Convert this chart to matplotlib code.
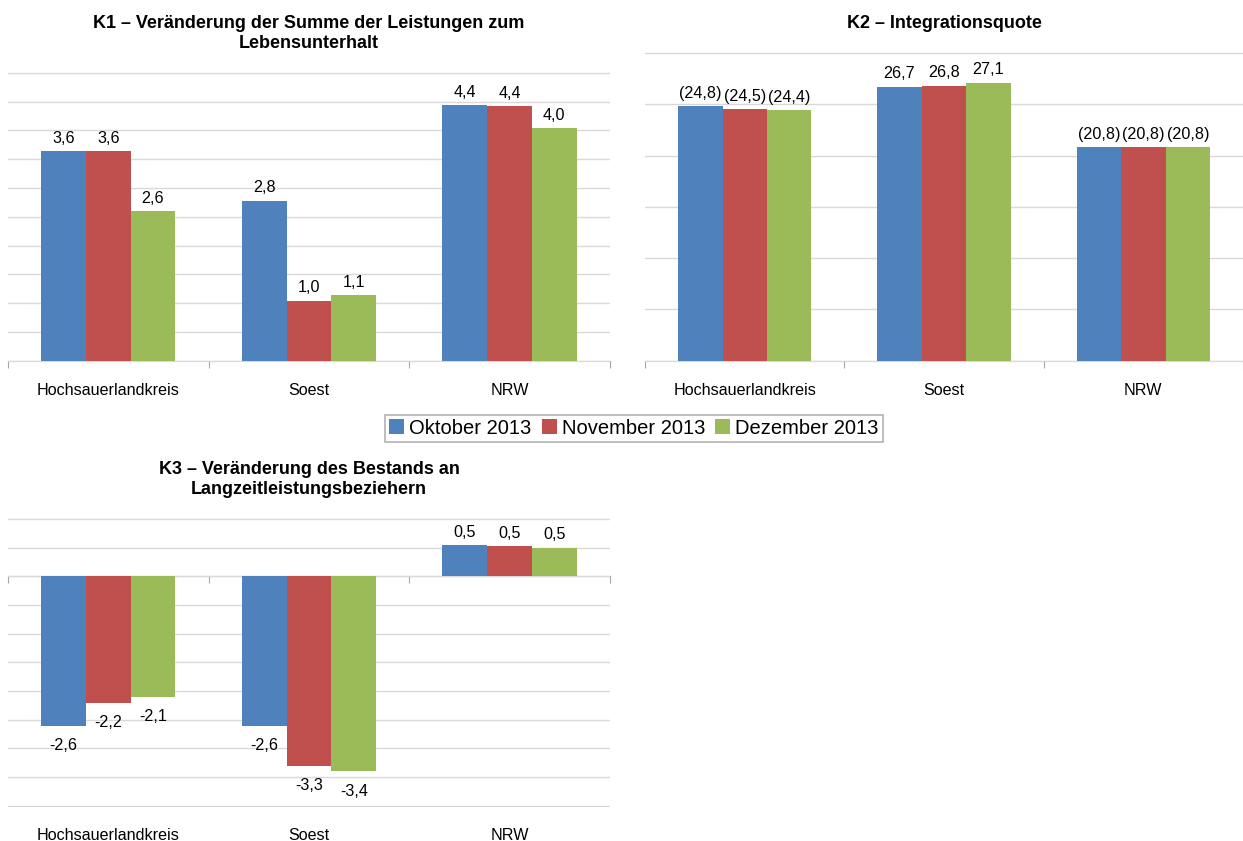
import numpy as np
import matplotlib
matplotlib.use("Agg")
import matplotlib.pyplot as plt
from matplotlib.patches import Patch

plt.rcParams["font.family"] = ["Liberation Sans", "DejaVu Sans"]

categories = ["Hochsauerlandkreis", "Soest", "NRW"]
series = ["Oktober 2013", "November 2013", "Dezember 2013"]
colors = ["#4F81BD", "#C0504D", "#9BBB59"]

# values per series (Okt, Nov, Dez) for each category
k1_okt = [3.64, 2.78, 4.44]
k1_nov = [3.64, 1.04, 4.42]
k1_dez = [2.60, 1.14, 4.04]

k2_okt = [24.8, 26.7, 20.8]
k2_nov = [24.5, 26.8, 20.8]
k2_dez = [24.4, 27.1, 20.8]
k2_paren = [True, False, True]

k3_okt = [-2.6, -2.6, 0.54]
k3_nov = [-2.2, -3.3, 0.52]
k3_dez = [-2.1, -3.4, 0.50]

GRID = "#d9d9d9"
AXIS = "#a6a6a6"
FS = 11.6


def fmt(v, paren=False):
    s = f"{v:.1f}".replace(".", ",")
    return f"({s})" if paren else s


def panel(ax, data, ylim, step, title, paren=None):
    x = np.arange(len(categories))
    w = 0.223
    for i, (vals, c) in enumerate(zip(data, colors)):
        bars = ax.bar(x + (i - 1) * w, vals, w, color=c, zorder=3)
        for k, (b, v) in enumerate(zip(bars, vals)):
            p = paren[k] if paren else False
            ax.annotate(fmt(v, p),
                        (b.get_x() + b.get_width() / 2, v),
                        xytext=(0, 4 if v >= 0 else -9), textcoords="offset points",
                        ha="center", va="bottom" if v >= 0 else "top", fontsize=FS)
    ax.set_xlim(-0.5, 2.5)
    ax.set_ylim(ylim[0] - 0.004 * (ylim[1] - ylim[0]), ylim[1] + 0.003 * (ylim[1] - ylim[0]))
    ax.set_yticks(np.arange(ylim[0], ylim[1] + step / 2, step))
    ax.yaxis.grid(True, color=GRID, lw=1, zorder=0)
    ax.tick_params(axis="y", length=0, labelleft=False)
    for s in ["left", "right", "top"]:
        ax.spines[s].set_visible(False)
    ax.set_xticks(x)
    ax.set_xticklabels(categories, fontsize=FS)
    ax.tick_params(axis="x", length=0, pad=15)
    ax.set_title(title, fontsize=13, fontweight="bold", pad=17, linespacing=1.25)

    # separator ticks on the zero line
    ax.spines["bottom"].set_visible(False)
    sec = ax.secondary_xaxis(0, transform=ax.transData)
    sec.spines["bottom"].set_color(AXIS)
    sec.set_xticks([-0.5, 0.5, 1.5, 2.5])
    sec.tick_params(axis="x", length=5, color=AXIS, labelbottom=False)


fig = plt.figure(figsize=(12.43, 8.41), dpi=100)
ax1 = fig.add_axes([0.0064, 0.5696, 0.4843, 0.3448])
ax2 = fig.add_axes([0.519, 0.5696, 0.481, 0.3686])
ax3 = fig.add_axes([0.0064, 0.0404, 0.4843, 0.3437])

panel(ax1, [k1_okt, k1_nov, k1_dez], (0, 5), 0.5,
      "K1 – Veränderung der Summe der Leistungen zum\nLebensunterhalt")
panel(ax2, [k2_okt, k2_nov, k2_dez], (0, 30), 5,
      "K2 – Integrationsquote", paren=k2_paren)
panel(ax3, [k3_okt, k3_nov, k3_dez], (-4, 1), 0.5,
      "K3 – Veränderung des Bestands an\nLangzeitleistungsbeziehern")

handles = [Patch(facecolor=c, label=s) for c, s in zip(colors, series)]
leg = fig.legend(handles=handles, loc="center", bbox_to_anchor=(0.51, 0.491), ncol=3,
                 fontsize=14.5, frameon=True, fancybox=False, handlelength=0.75,
                 handleheight=0.75, handletextpad=0.25, columnspacing=0.5,
                 borderpad=0.2, borderaxespad=0)
leg.get_frame().set_edgecolor("#a0a0a0")
leg.get_frame().set_linewidth(1.2)

fig.savefig("out.png", dpi=100)
